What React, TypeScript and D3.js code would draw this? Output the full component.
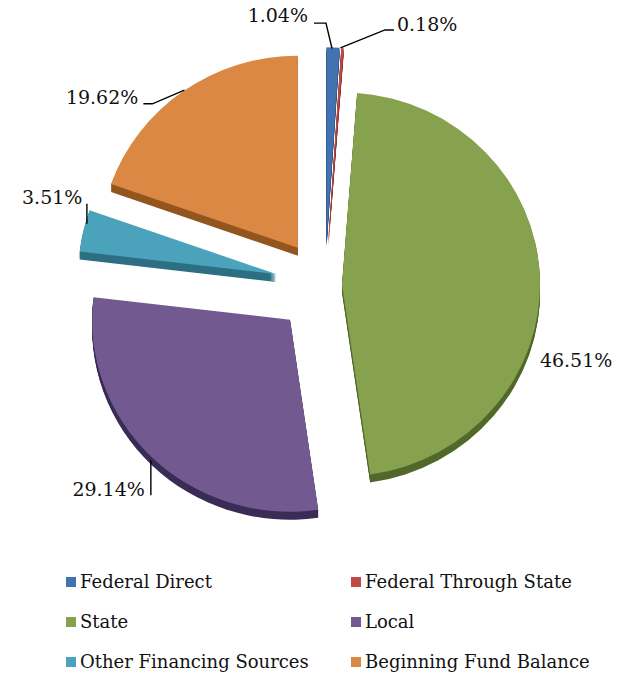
import React from 'react';
import * as d3 from 'd3';

const categories = [
  'Federal Direct',
  'Federal Through State',
  'State',
  'Local',
  'Other Financing Sources',
  'Beginning Fund Balance',
];
const values = [1.04, 0.18, 46.51, 29.14, 3.51, 19.62];
const labels = ['1.04%', '0.18%', '46.51%', '29.14%', '3.51%', '19.62%'];

// styles
const topColors = ['#4273b0', '#bf4b48', '#86a24e', '#725a91', '#4aa3bb', '#db8844'];
const sideColors = ['#2c5282', '#8a3230', '#51692a', '#3b2c57', '#2d6f83', '#93561f'];
const explode = [47, 47, 17, 50, 50, 47];
// leader polylines (relative to the arc anchor) and text placement
const leaders: [number, number][][] = [
  [[-1, 1], [-7, -24.4], [-19, -24.4]],
  [[-2, 0], [42.6, -18], [51.6, -18]],
  [],
  [[-1, 3], [-1, 38]],
  [[3.5, -7], [3.5, -27]],
  [[1, -1], [-31, 12.7], [-40, 12.7]],
];
const textPos: [number, number, string][] = [
  [-25, -25.4, 'end'],
  [54.6, -17, 'start'],
  [0, 89, 'start'],
  [-7, 38.8, 'end'],
  [-1, -27, 'end'],
  [-45, 12.7, 'end'],
];

const W = 630;
const H = 674;
const cx = 325;
const cy = 285;
const R = 198;
const SY = 0.97;
const depth = 8;
const FONT = '"DejaVu Serif", serif';

export default function App() {
  const pie = d3
    .pie<number>()
    .sort(null)
    .value((d) => d)
    .startAngle(0)
    .endAngle(2 * Math.PI);
  const arcs = pie(values);
  const arcGen = d3.arc<d3.PieArcDatum<number>>().innerRadius(0).outerRadius(R);

  const geo = arcs.map((a, i) => {
    const mid = (a.startAngle + a.endAngle) / 2;
    const ux = Math.sin(mid);
    const uy = -Math.cos(mid);
    const ax = cx + explode[i] * ux;
    const ay = cy + explode[i] * uy * SY;
    return {
      a,
      ax,
      ay,
      lx: ax + R * ux,
      ly: ay + R * uy * SY,
      path: arcGen(a) as string,
    };
  });

  const sideLayers = d3.range(depth, 0, -1);

  const legendCols = [66, 351];
  const legendRows = [588, 628, 668];

  return (
    <svg
      width={W}
      height={H}
      style={{ position: 'absolute', left: 0, top: 0, background: '#fff' }}
      fontFamily={FONT}
    >
      {geo.map((g, i) => (
        <g key={'side' + i}>
          {sideLayers.map((k) => (
            <path
              key={k}
              d={g.path}
              transform={`translate(${g.ax},${g.ay + k}) scale(1,${SY})`}
              fill={sideColors[i]}
            />
          ))}
        </g>
      ))}
      {geo.map((g, i) => (
        <path
          key={'top' + i}
          d={g.path}
          transform={`translate(${g.ax},${g.ay}) scale(1,${SY})`}
          fill={topColors[i]}
        />
      ))}
      {geo.map((g, i) => (
        <g key={'lab' + i}>
          {leaders[i].length > 0 && (
            <polyline
              points={leaders[i].map(([dx, dy]) => `${g.lx + dx},${g.ly + dy}`).join(' ')}
              fill="none"
              stroke="#000"
              strokeWidth={1.4}
            />
          )}
          <text
            x={g.lx + textPos[i][0]}
            y={g.ly + textPos[i][1]}
            textAnchor={textPos[i][2] as any}
            fontSize={19}
            fill="#111"
          >
            {labels[i]}
          </text>
        </g>
      ))}
      {categories.map((c, i) => {
        const col = i % 2;
        const row = Math.floor(i / 2);
        const x = legendCols[col];
        const y = legendRows[row];
        return (
          <g key={'leg' + i}>
            <rect x={x} y={y - 11} width={10} height={10} fill={topColors[i]} />
            <text x={x + 14} y={y} fontSize={18} fill="#111">
              {c}
            </text>
          </g>
        );
      })}
    </svg>
  );
}
